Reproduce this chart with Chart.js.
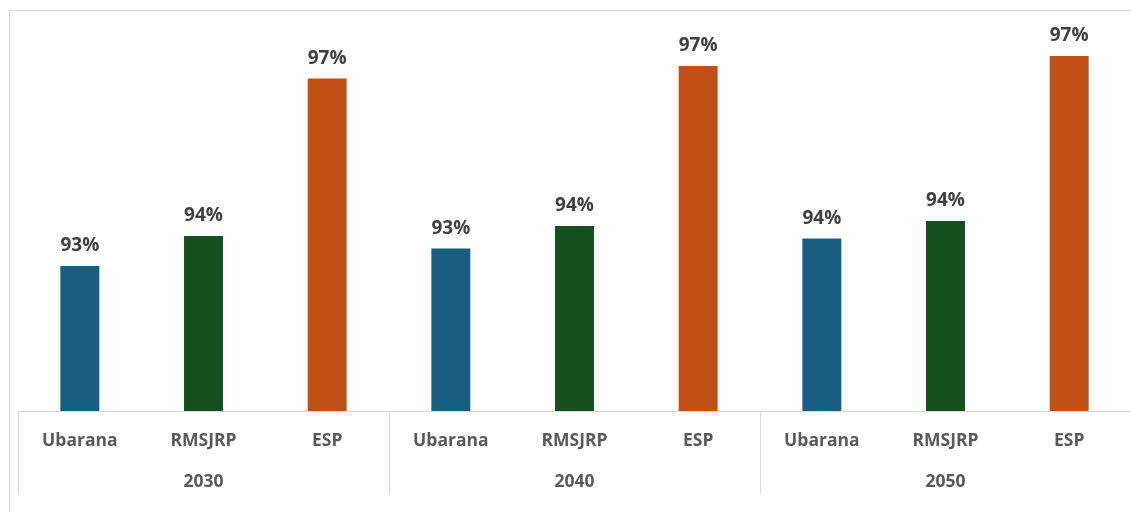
<!DOCTYPE html>
<html>
<head>
<meta charset="utf-8">
<script src="https://cdn.jsdelivr.net/npm/chart.js@4/dist/chart.umd.min.js"></script>
<style>
  html, body { margin: 0; padding: 0; background: #ffffff; overflow: hidden; }
  #wrap { position: relative; width: 1131px; height: 512px; overflow: hidden; }
  #frame { position: absolute; left: 9px; top: 10px; width: 1300px; height: 700px;
           border: 1px solid #d9d9d9; box-sizing: border-box; }
  #chart { position: absolute; left: 0; top: 0; }
</style>
</head>
<body>
<div id="wrap">
  <div id="frame"></div>
  <canvas id="chart" width="1131" height="512"></canvas>
</div>
<script>
// Sites and horizon years
const categories = ['Ubarana', 'RMSJRP', 'ESP'];
const years = ['2030', '2040', '2050'];

// Values (%) per site, one entry per year
const ubarana = [93.1, 93.45, 93.65];
const rmsjrp  = [93.7, 93.9, 94.0];
const esp     = [96.85, 97.1, 97.3];

const siteColors = ['#175e82', '#144f1e', '#c05016'];

// Flatten into one bar per (year, site)
const barLabels = [];
const barValues = [];
const barColors = [];
const bySite = [ubarana, rmsjrp, esp];
years.forEach((y, yi) => {
  categories.forEach((c, ci) => {
    barLabels.push(c);
    barValues.push(bySite[ci][yi]);
    barColors.push(siteColors[ci]);
  });
});

const FONT = "'Open Sans', 'Noto Sans', 'DejaVu Sans', sans-serif";
const GRID = '#d9d9d9';

// Value labels above each bar
const valueLabels = {
  id: 'valueLabels',
  afterDatasetsDraw(chart) {
    const ctx = chart.ctx;
    const meta = chart.getDatasetMeta(0);
    ctx.save();
    ctx.font = "bold 19px " + FONT;
    ctx.fillStyle = '#404040';
    ctx.textAlign = 'center';
    ctx.textBaseline = 'alphabetic';
    meta.data.forEach((bar, i) => {
      const v = chart.data.datasets[0].data[i];
      ctx.fillText(Math.round(v) + '%', bar.x, bar.y - 15);
    });
    ctx.restore();
  }
};

// Vertical separators between year groups, through both label rows
const groupDividers = {
  id: 'groupDividers',
  afterDraw(chart) {
    const xs = chart.scales.x;
    const x2 = chart.scales.x2;
    const half = (xs.getPixelForValue(1) - xs.getPixelForValue(0)) / 2;
    const ctx = chart.ctx;
    ctx.save();
    ctx.strokeStyle = GRID;
    ctx.lineWidth = 1;
    for (let g = 0; g <= years.length; g++) {
      const idx = Math.min(g * categories.length, barLabels.length - 1);
      const px = g * categories.length < barLabels.length
        ? xs.getPixelForValue(idx) - half
        : xs.getPixelForValue(idx) + half;
      const xx = Math.round(px) + 0.5;
      ctx.beginPath();
      ctx.moveTo(xx, chart.chartArea.bottom);
      ctx.lineTo(xx, x2.bottom);
      ctx.stroke();
    }
    ctx.restore();
  }
};

new Chart(document.getElementById('chart'), {
  type: 'bar',
  data: {
    labels: barLabels,
    datasets: [{
      data: barValues,
      backgroundColor: barColors,
      borderWidth: 0,
      barPercentage: 0.315,
      categoryPercentage: 1
    }]
  },
  options: {
    responsive: false,
    animation: false,
    layout: { padding: { top: 21, left: 18, right: 0, bottom: 18 } },
    plugins: { legend: { display: false }, tooltip: { enabled: false } },
    scales: {
      y: { display: false, min: 90.2, max: 98 },
      x: {
        position: 'bottom',
        weight: 0,
        grid: { display: false, drawTicks: false },
        border: { display: true, color: GRID, width: 1 },
        ticks: {
          color: '#595959',
          font: { family: FONT, weight: 'bold', size: 17.5 },
          padding: 20,
          maxRotation: 0,
          autoSkip: false
        },
        afterFit(s) { s.height = 52; }
      },
      x2: {
        type: 'category',
        labels: years,
        position: 'bottom',
        weight: 1,
        offset: true,
        grid: { display: false, drawTicks: false },
        border: { display: false },
        ticks: {
          color: '#595959',
          font: { family: FONT, weight: 'bold', size: 17.5 },
          padding: 9,
          maxRotation: 0,
          autoSkip: false
        },
        afterFit(s) { s.height = 31; }
      }
    }
  },
  plugins: [valueLabels, groupDividers]
});
</script>
</body>
</html>
